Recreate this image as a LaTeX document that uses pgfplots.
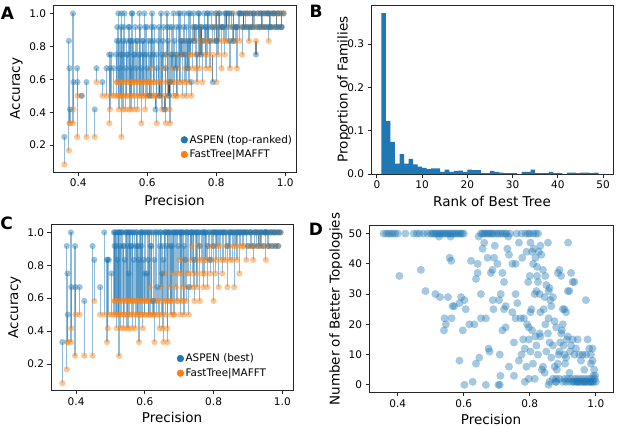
\documentclass[border=0pt]{standalone}
\usepackage{fontspec}
\setmainfont{DejaVu Sans}
\usepackage{pgfplots}
\usepackage{pgfplotstable}
\pgfplotsset{compat=1.18}
\definecolor{tabblue}{RGB}{31,119,180}
\definecolor{taborange}{RGB}{255,127,14}

% families: precision, FastTree acc (f), ASPEN top-ranked acc (a), ASPEN best acc (b)
\pgfplotstableread{
p f a b
0.360 0.083 0.250 0.333
0.373 0.167 0.833 0.917
0.375 0.333 0.667 0.750
0.376 0.333 0.417 0.500
0.385 0.333 1.000 1.000
0.386 0.417 0.583 0.667
0.397 0.250 0.667 0.917
0.398 0.500 0.583 0.667
0.410 0.500 0.500 0.667
0.424 0.250 0.583 0.583
0.448 0.250 0.417 0.917
0.453 0.583 0.667 0.833
0.470 0.500 0.583 0.667
0.482 0.500 0.667 1.000
0.490 0.333 0.750 0.833
0.492 0.417 0.667 0.833
0.495 0.500 0.750 0.833
0.503 0.500 0.667 0.750
0.525 0.250 1.000 1.000
0.510 0.500 0.750 1.000
0.513 0.583 0.917 1.000
0.518 0.417 0.833 0.917
0.522 0.500 0.750 1.000
0.528 0.583 0.750 0.917
0.532 0.500 0.917 1.000
0.537 0.417 0.667 0.917
0.541 0.500 0.750 0.833
0.546 0.583 0.917 1.000
0.550 0.500 0.833 0.917
0.553 0.417 0.667 0.750
0.557 0.583 1.000 1.000
0.561 0.500 0.750 0.917
0.565 0.583 0.917 1.000
0.568 0.500 0.667 0.833
0.572 0.417 0.833 0.917
0.575 0.583 0.750 1.000
0.579 0.500 0.917 0.917
0.583 0.333 0.667 0.833
0.586 0.583 0.833 1.000
0.590 0.500 0.750 0.917
0.594 0.417 0.917 1.000
0.597 0.583 0.750 0.833
0.600 0.500 0.667 0.750
0.603 0.583 0.833 1.000
0.606 0.583 0.500 0.750
0.610 0.500 0.833 0.833
0.614 0.667 1.000 1.000
0.617 0.500 0.750 0.917
0.620 0.583 0.917 1.000
0.624 0.500 0.417 0.583
0.628 0.333 0.667 0.833
0.632 0.583 0.833 1.000
0.636 0.583 0.500 0.667
0.640 0.500 1.000 1.000
0.643 0.417 0.750 0.917
0.647 0.667 0.917 1.000
0.650 0.500 0.417 0.750
0.654 0.333 0.667 0.833
0.657 0.750 1.000 1.000
0.660 0.500 0.833 1.000
0.663 0.583 0.500 0.917
0.666 0.333 0.583 1.000
0.669 0.583 0.750 1.000
0.672 0.667 0.917 1.000
0.676 0.500 1.000 1.000
0.679 0.583 0.833 0.917
0.682 0.750 0.667 1.000
0.686 0.500 0.750 1.000
0.690 0.667 1.000 1.000
0.693 0.583 0.917 1.000
0.697 0.750 0.833 0.917
0.700 0.833 0.750 1.000
0.703 0.500 0.833 1.000
0.707 0.583 1.000 1.000
0.710 0.667 0.750 1.000
0.714 0.500 0.917 0.917
0.717 0.833 0.667 0.833
0.721 0.583 0.833 1.000
0.724 0.750 1.000 1.000
0.728 0.500 0.583 0.667
0.732 0.667 0.917 1.000
0.736 0.917 0.833 1.000
0.740 0.750 0.917 1.000
0.744 0.583 0.750 0.833
0.748 0.833 1.000 1.000
0.752 0.667 0.917 1.000
0.756 0.917 0.750 1.000
0.760 0.583 0.833 0.917
0.765 0.833 1.000 1.000
0.770 0.667 0.917 1.000
0.774 0.750 1.000 1.000
0.778 0.833 0.917 1.000
0.782 0.667 0.833 0.917
0.786 0.917 1.000 1.000
0.790 0.750 0.583 0.833
0.795 0.833 0.917 1.000
0.800 0.583 0.833 0.917
0.801 1.000 0.833 1.000
0.805 0.750 0.917 1.000
0.810 0.917 1.000 1.000
0.815 0.667 0.917 1.000
0.820 0.833 0.917 1.000
0.825 0.750 1.000 1.000
0.830 1.000 0.917 1.000
0.835 0.833 1.000 1.000
0.840 0.667 0.833 0.917
0.845 0.917 1.000 1.000
0.850 1.000 0.833 1.000
0.855 0.833 0.917 1.000
0.860 0.667 0.917 1.000
0.865 0.917 1.000 1.000
0.870 1.000 1.000 1.000
0.875 0.750 0.917 1.000
0.880 1.000 0.917 1.000
0.885 0.917 1.000 1.000
0.890 1.000 1.000 1.000
0.895 0.833 0.917 1.000
0.900 0.917 0.917 0.917
0.905 1.000 0.917 1.000
0.910 0.917 1.000 1.000
0.915 0.833 0.750 0.917
0.920 1.000 1.000 1.000
0.925 0.917 0.917 1.000
0.930 1.000 0.917 0.917
0.935 0.917 1.000 1.000
0.940 1.000 1.000 1.000
0.945 0.917 0.917 0.917
0.950 1.000 1.000 1.000
0.952 0.833 0.917 1.000
0.955 1.000 0.917 1.000
0.960 0.917 0.917 0.917
0.965 1.000 1.000 1.000
0.970 0.917 0.917 0.917
0.975 1.000 0.917 1.000
0.980 0.917 0.917 0.917
0.985 1.000 1.000 1.000
0.990 1.000 0.917 1.000
0.995 1.000 1.000 1.000
0.512 0.583 0.833 0.917
0.516 0.500 1.000 1.000
0.520 0.583 0.667 0.833
0.524 0.500 0.917 1.000
0.530 0.417 0.833 1.000
0.534 0.583 1.000 1.000
0.539 0.500 0.833 0.917
0.543 0.583 0.750 1.000
0.548 0.417 0.917 1.000
0.552 0.583 0.833 1.000
0.555 0.500 1.000 1.000
0.559 0.583 0.833 0.917
0.563 0.417 0.750 1.000
0.570 0.583 0.833 1.000
0.577 0.500 1.000 1.000
0.581 0.583 0.750 0.917
0.588 0.500 0.833 1.000
0.592 0.583 1.000 1.000
0.599 0.500 0.917 1.000
0.608 0.583 0.750 1.000
0.612 0.500 0.917 1.000
0.619 0.583 0.833 0.917
0.626 0.500 0.750 1.000
0.634 0.500 0.917 1.000
0.645 0.583 0.833 1.000
0.652 0.417 0.750 0.917
0.658 0.583 0.917 1.000
0.665 0.417 0.917 1.000
0.674 0.583 0.750 0.917
0.684 0.500 0.917 1.000
0.695 0.583 1.000 1.000
0.705 0.750 0.917 1.000
0.712 0.583 0.833 1.000
0.719 0.667 1.000 1.000
0.726 0.750 0.833 1.000
0.734 0.833 1.000 1.000
0.742 0.667 0.917 1.000
0.750 0.750 1.000 1.000
0.758 0.833 0.917 1.000
0.768 0.750 0.917 1.000
0.776 0.833 1.000 1.000
0.788 0.833 0.917 1.000
0.798 0.917 1.000 1.000
0.808 0.833 1.000 1.000
0.818 0.917 0.917 1.000
0.828 0.833 1.000 1.000
0.838 0.917 1.000 1.000
0.848 0.833 0.917 1.000
0.858 0.917 0.917 1.000
0.868 0.833 1.000 1.000
0.878 0.917 1.000 1.000
0.888 0.917 0.917 1.000
0.898 1.000 1.000 1.000
0.908 0.917 1.000 1.000
0.918 0.917 0.917 1.000
0.928 1.000 1.000 1.000
0.938 0.917 0.917 1.000
0.948 1.000 1.000 1.000
0.958 0.917 1.000 1.000
0.968 1.000 1.000 1.000
0.978 1.000 1.000 1.000
0.988 0.917 0.917 0.917
}\fam

% panel D: precision, number of better topologies
\pgfplotstableread{
p v
0.357 50
0.365 50
0.372 50
0.378 50
0.385 50
0.392 50
0.400 50
0.423 50
0.448 50
0.458 50
0.466 50
0.478 50
0.490 50
0.500 50
0.505 50
0.510 50
0.515 50
0.520 50
0.525 50
0.530 50
0.535 50
0.540 50
0.545 50
0.550 50
0.555 50
0.560 50
0.565 50
0.570 50
0.575 50
0.580 50
0.585 50
0.590 50
0.595 50
0.600 50
0.652 50
0.657 50
0.662 50
0.667 50
0.672 50
0.677 50
0.682 50
0.687 50
0.692 50
0.700 50
0.705 50
0.712 50
0.718 50
0.725 50
0.730 50
0.740 50
0.760 50
0.775 50
0.787 50
0.795 50
0.800 50
0.810 50
0.818 50
0.825 50
0.525 49
0.560 49
0.645 49
0.735 49
0.405 36
0.470 38
0.484 31
0.514 30
0.528 29
0.542 22
0.546 20
0.540 18
0.552 29
0.557 42
0.562 41
0.563 22
0.566 26
0.571 26
0.587 27
0.592 29
0.597 18
0.587 8
0.602 28
0.606 25
0.617 20
0.602 0
0.622 41
0.627 1
0.632 20
0.637 35
0.642 40
0.647 9
0.637 7
0.642 37
0.652 30
0.652 22
0.657 45
0.662 47
0.667 0
0.667 22
0.672 42
0.675 12
0.678 11
0.682 37
0.687 38
0.692 42
0.688 28
0.690 25
0.694 46
0.702 40
0.707 28
0.712 30
0.717 37
0.709 10
0.711 3
0.705 0
0.709 0
0.722 34
0.717 18
0.727 19
0.727 26
0.722 25
0.732 45
0.737 43
0.737 6
0.747 24
0.747 40
0.752 14
0.752 3
0.757 40
0.757 22
0.762 27
0.767 47
0.757 30
0.772 22
0.777 42
0.767 8
0.782 22
0.785 1
0.792 20
0.797 19
0.797 15
0.797 2
0.802 47
0.802 24
0.802 11
0.807 18
0.807 44
0.812 45
0.817 42
0.822 36
0.822 39
0.827 44
0.817 16
0.832 46
0.832 16
0.832 24
0.842 25
0.847 20
0.847 36
0.837 5
0.857 31
0.857 22
0.862 28
0.857 0
0.790 44
0.795 34
0.800 36
0.805 25
0.810 40
0.815 30
0.820 31
0.825 34
0.830 30
0.835 43
0.840 38
0.845 29
0.850 33
0.855 47
0.860 32
0.865 26
0.870 29
0.875 21
0.880 19
0.885 37
0.890 38
0.895 36
0.900 25
0.905 25
0.910 24
0.915 31
0.920 31
0.925 37
0.930 34
0.935 34
0.970 28
0.916 47
0.775 10
0.780 15
0.785 12
0.790 6
0.810 7
0.815 2
0.820 13
0.825 10
0.830 17
0.840 6
0.845 4
0.850 11
0.855 17
0.860 14
0.865 9
0.870 13
0.875 6
0.878 1
0.880 2
0.882 5
0.885 7
0.887 10
0.890 11
0.892 14
0.895 17
0.897 18
0.900 20
0.902 13
0.905 10
0.907 7
0.910 9
0.912 15
0.915 16
0.920 4
0.922 11
0.925 13
0.930 15
0.935 10
0.940 12
0.945 15
0.950 10
0.955 8
0.960 10
0.965 5
0.970 10
0.975 15
0.980 12
0.985 10
0.990 8
0.995 5
0.992 3
0.990 12
0.985 7
0.860 1
0.870 2
0.880 1
0.890 2
0.900 1
0.905 2
0.910 1
0.915 2
0.920 1
0.925 2
0.930 1
0.933 1
0.936 2
0.940 1
0.943 1
0.946 2
0.950 1
0.953 1
0.956 2
0.960 1
0.963 1
0.966 2
0.970 1
0.973 1
0.976 2
0.980 1
0.983 1
0.986 2
0.990 1
0.993 1
0.996 2
1.000 1
0.998 3
0.945 1
0.965 1
0.985 1
}\topo

\pgfplotsset{
  myax/.style={
    scale only axis,
    axis line style={line width=0.8pt, black!85},
    tick align=outside,
    major tick length=3.5pt,
    tick style={line width=0.8pt, black!85},
    xtick pos=bottom, ytick pos=left,
    tick label style={font=\fontsize{10.5}{12}\selectfont},
    label style={font=\fontsize{13.5}{16}\selectfont},
    /pgf/number format/assume math mode=true,
    xlabel style={at={(axis description cs:0.5,0)}, anchor=center, yshift=-28pt},
  },
  dec1x/.style={xticklabel style={/pgf/number format/.cd, fixed, fixed zerofill, precision=1}},
  dec1y/.style={yticklabel style={/pgf/number format/.cd, fixed, fixed zerofill, precision=1}},
  bmark/.style={only marks, mark=*, mark size=3.1pt,
    mark options={fill=#1, draw=#1, fill opacity=0.45, draw opacity=0}},
  segs/.style 2 args={draw=none, mark=none, forget plot,
    error bars/.cd, y dir=#1, y explicit, error mark=none,
    error bar style={draw=#2, draw opacity=0.5, line width=1.2pt}},
  mylegend/.style={legend style={draw=none, fill=none,
    font=\fontsize{10.4}{12}\selectfont, row sep=2pt, inner sep=1pt,
    nodes={inner sep=1.6pt}}, legend cell align=left},
}

\begin{document}
\begin{tikzpicture}
\useasboundingbox (0,0) rectangle (617pt,426pt);

% ---------------- Panel A ----------------
\begin{axis}[myax, dec1x, dec1y, mylegend,
  legend style={at={(0.995,0.06)}, anchor=south east},
  at={(53pt,254pt)}, anchor=south west, width=243pt, height=167pt,
  xmin=0.327, xmax=1.031, ymin=0.037, ymax=1.051,
  xtick={0.4,0.6,0.8,1.0}, ytick={0.2,0.4,0.6,0.8,1.0},
  xlabel={Precision}, ylabel={Accuracy},
  ylabel style={at={(axis description cs:0,0.5)}, anchor=center, yshift=36.7pt},
]
\addlegendimage{legend image code/.code={\fill[tabblue] (0pt,0pt) circle (3.4pt);}}
\addlegendentry{ASPEN (top-ranked)}
\addlegendimage{legend image code/.code={\fill[taborange] (0pt,0pt) circle (3.4pt);}}
\addlegendentry{FastTree|MAFFT}
\addplot[segs={minus}{tabblue}]
  table[x=p, y=a, y error minus expr={max(\thisrow{a}-\thisrow{f},0)}] {\fam};
\addplot[segs={plus}{black}]
  table[x=p, y=a, y error plus expr={max(\thisrow{f}-\thisrow{a},0)}] {\fam};
\addplot[forget plot, bmark=taborange] table[x=p, y=f] {\fam};
\addplot[forget plot, bmark=tabblue] table[x=p, y=a] {\fam};
\end{axis}

% ---------------- Panel B ----------------
\begin{axis}[myax, dec1y,
  at={(371pt,252pt)}, anchor=south west, width=242pt, height=169pt,
  xmin=-1.3, xmax=52.2, ymin=0, ymax=0.39,
  xtick={0,10,20,30,40,50}, ytick={0,0.1,0.2,0.3},
  xlabel={Rank of Best Tree}, ylabel={Proportion of Families},
  xlabel style={yshift=1pt},
  ylabel style={at={(axis description cs:0,0.5)}, anchor=center, yshift=27.2pt},
]
\addplot[const plot mark left, fill=tabblue, draw=none] coordinates {
(1,0.371) (2,0.122) (3,0.074) (4,0.024) (5,0.046) (6,0.024) (7,0.035) (8,0.022)
(9,0.017) (10,0.014) (11,0.011) (12,0.013) (13,0.013) (14,0.005) (15,0.010)
(16,0.005) (17,0.007) (18,0.008) (19,0.005) (20,0.010) (21,0.009) (22,0.009)
(23,0.002) (24,0.002) (25,0.007) (26,0.005) (27,0.003) (28,0.002) (29,0.002)
(30,0.002) (31,0.000) (32,0.005) (33,0.005) (34,0.010) (35,0.002) (36,0.002)
(37,0.002) (38,0.005) (39,0.002) (40,0.002) (41,0.000) (42,0.003) (43,0.003)
(44,0.002) (45,0.003) (46,0.003) (47,0.002) (48,0.003) (49,0.000) (50,0.000)
} \closedcycle;
\end{axis}

% ---------------- Panel C ----------------
\begin{axis}[myax, dec1x, dec1y, mylegend,
  legend style={at={(0.515,0.06)}, anchor=south west},
  at={(51pt,35.3pt)}, anchor=south west, width=242pt, height=166.7pt,
  xmin=0.327, xmax=1.031, ymin=0.037, ymax=1.051,
  xtick={0.4,0.6,0.8,1.0}, ytick={0.2,0.4,0.6,0.8,1.0},
  xlabel={Precision}, ylabel={Accuracy},
  xlabel style={yshift=1.5pt},
  ylabel style={at={(axis description cs:0,0.5)}, anchor=center, yshift=36.5pt},
]
\addlegendimage{legend image code/.code={\fill[tabblue] (0pt,0pt) circle (3.4pt);}}
\addlegendentry{ASPEN (best)}
\addlegendimage{legend image code/.code={\fill[taborange] (0pt,0pt) circle (3.4pt);}}
\addlegendentry{FastTree|MAFFT}
\addplot[segs={minus}{tabblue}]
  table[x=p, y=b, y error minus expr={max(\thisrow{b}-\thisrow{f},0)}] {\fam};
\addplot[segs={plus}{black}]
  table[x=p, y=b, y error plus expr={max(\thisrow{f}-\thisrow{b},0)}] {\fam};
\addplot[forget plot, bmark=taborange] table[x=p, y=f] {\fam};
\addplot[forget plot, bmark=tabblue] table[x=p, y=b] {\fam};
\end{axis}

% ---------------- Panel D ----------------
\begin{axis}[myax, dec1x,
  at={(369pt,33.3pt)}, anchor=south west, width=244pt, height=167pt,
  xmin=0.313, xmax=1.052, ymin=-2.6, ymax=52.6,
  xtick={0.4,0.6,0.8,1.0}, ytick={0,10,20,30,40,50},
  xlabel={Precision}, ylabel={Number of Better Topologies},
  xlabel style={yshift=1.5pt},
  ylabel style={at={(axis description cs:0,0.5)}, anchor=center, yshift=33pt},
]
\addplot[only marks, mark=*, mark size=4pt,
  mark options={fill=tabblue, draw=tabblue, fill opacity=0.4, draw opacity=0}]
  table[x=p, y=v] {\topo};
\end{axis}

\node[font=\bfseries\fontsize{17}{17}\selectfont] at (7.5pt,412.5pt) {A};
\node[font=\bfseries\fontsize{17}{17}\selectfont] at (316pt,414.5pt) {B};
\node[font=\bfseries\fontsize{17}{17}\selectfont] at (6.5pt,202.5pt) {C};
\node[font=\bfseries\fontsize{17}{17}\selectfont] at (316pt,197pt) {D};
\end{tikzpicture}
\end{document}
